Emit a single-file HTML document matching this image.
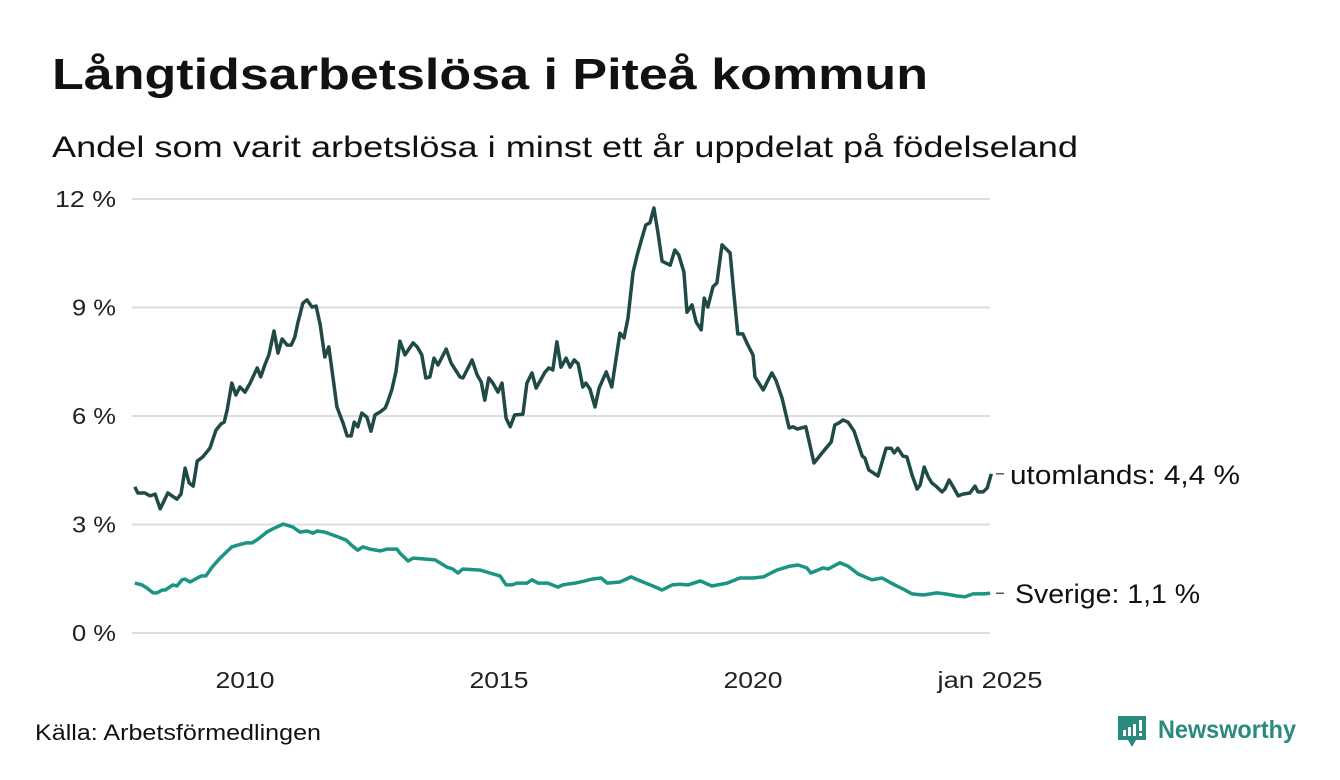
<!DOCTYPE html>
<html><head><meta charset="utf-8"><style>
html,body{margin:0;padding:0;background:#fff;}
svg{display:block;font-family:"Liberation Sans",sans-serif;}
</style></head><body>
<svg id="chart" width="1340" height="780" viewBox="0 0 1340 780" xmlns="http://www.w3.org/2000/svg">
<text x="52" y="89" font-size="44" font-weight="bold" fill="#111" textLength="876" lengthAdjust="spacingAndGlyphs">Långtidsarbetslösa i Piteå kommun</text>
<text x="52" y="157" font-size="30" fill="#111" textLength="1026" lengthAdjust="spacingAndGlyphs">Andel som varit arbetslösa i minst ett år uppdelat på födelseland</text>
<g id="grid"></g>
<g id="yticks"></g>
<g id="xticks"></g>
<g id="series"></g>
<text x="35" y="740" font-size="22" fill="#111" textLength="286" lengthAdjust="spacingAndGlyphs">Källa: Arbetsförmedlingen</text>
<g>
<path d="M1118 716 h28 v24 h-10 l-4 7 l-4 -7 h-10 z" fill="#2a8a7e"/>
<rect x="1123" y="730" width="3" height="6" fill="#fff"/><rect x="1128" y="727" width="3" height="9" fill="#fff"/><rect x="1133" y="724" width="3" height="12" fill="#fff"/><rect x="1139" y="720" width="3" height="11" fill="#fff"/><rect x="1139" y="733" width="3" height="3" fill="#fff"/>
<text x="1158" y="738" font-size="25" font-weight="bold" fill="#2a8a7e" textLength="138" lengthAdjust="spacingAndGlyphs">Newsworthy</text>
</g>
</svg>
<script>
const yTicks = [0, 3, 6, 9, 12];
const yTickLabels = ["0 %", "3 %", "6 %", "9 %", "12 %"];
const xTicks = [2010, 2015, 2020, 2024.67];
const xTickLabels = ["2010", "2015", "2020", "jan 2025"];
const seriesNames = ["utomlands", "Sverige"];
const endLabels = ["utomlands: 4,4 %", "Sverige: 1,1 %"];
const datesUtr = [2007.83,2007.89,2008.03,2008.13,2008.23,2008.33,2008.48,2008.66,2008.74,2008.82,2008.90,2008.98,2009.06,2009.17,2009.31,2009.43,2009.53,2009.59,2009.65,2009.74,2009.82,2009.90,2010.00,2010.10,2010.24,2010.31,2010.39,2010.47,2010.57,2010.65,2010.73,2010.83,2010.91,2010.98,2011.04,2011.14,2011.22,2011.32,2011.40,2011.48,2011.57,2011.65,2011.73,2011.81,2011.93,2012.01,2012.09,2012.15,2012.22,2012.30,2012.40,2012.48,2012.56,2012.66,2012.76,2012.81,2012.89,2012.97,2013.05,2013.15,2013.31,2013.39,2013.48,2013.56,2013.64,2013.72,2013.80,2013.96,2014.06,2014.23,2014.29,2014.47,2014.57,2014.65,2014.72,2014.80,2014.88,2014.98,2015.06,2015.14,2015.22,2015.31,2015.47,2015.55,2015.65,2015.73,2015.91,2015.98,2016.06,2016.14,2016.22,2016.32,2016.40,2016.48,2016.56,2016.65,2016.71,2016.79,2016.89,2016.97,2017.11,2017.22,2017.38,2017.46,2017.54,2017.64,2017.72,2017.82,2017.89,2017.97,2018.05,2018.13,2018.21,2018.37,2018.46,2018.54,2018.64,2018.70,2018.80,2018.88,2018.98,2019.04,2019.11,2019.21,2019.29,2019.39,2019.55,2019.63,2019.70,2019.80,2019.90,2020.00,2020.04,2020.20,2020.37,2020.45,2020.57,2020.71,2020.79,2020.87,2021.04,2021.20,2021.36,2021.54,2021.61,2021.69,2021.77,2021.87,2021.99,2022.15,2022.20,2022.28,2022.46,2022.62,2022.72,2022.78,2022.85,2022.95,2023.03,2023.13,2023.23,2023.29,2023.37,2023.45,2023.52,2023.60,2023.72,2023.78,2023.86,2023.94,2024.04,2024.13,2024.27,2024.37,2024.43,2024.53,2024.61,2024.69];
const valuesUtr = [4.04,3.87,3.87,3.79,3.84,3.43,3.87,3.70,3.84,4.56,4.15,4.06,4.75,4.87,5.11,5.61,5.78,5.83,6.17,6.91,6.58,6.80,6.66,6.91,7.33,7.08,7.41,7.69,8.35,7.74,8.13,7.96,7.96,8.18,8.57,9.12,9.21,9.01,9.04,8.52,7.63,7.91,7.08,6.25,5.81,5.45,5.45,5.83,5.70,6.08,5.97,5.58,6.03,6.11,6.22,6.39,6.72,7.22,8.07,7.69,8.02,7.91,7.69,7.05,7.08,7.60,7.41,7.85,7.46,7.08,7.05,7.55,7.13,6.94,6.44,7.05,6.91,6.66,6.91,5.94,5.70,6.03,6.05,6.91,7.19,6.77,7.22,7.33,7.27,8.05,7.35,7.60,7.35,7.55,7.44,6.80,6.91,6.75,6.25,6.77,7.22,6.80,8.29,8.16,8.71,9.98,10.45,10.95,11.28,11.34,11.75,11.06,10.28,10.17,10.59,10.45,9.98,8.87,9.07,8.60,8.38,9.26,9.01,9.57,9.68,10.73,10.51,9.29,8.27,8.27,7.96,7.69,7.08,6.72,7.19,6.99,6.50,5.67,5.70,5.64,5.70,4.70,4.98,5.28,5.75,5.81,5.89,5.83,5.58,4.89,4.84,4.51,4.34,5.11,5.11,4.98,5.11,4.89,4.87,4.37,3.98,4.09,4.59,4.31,4.15,4.06,3.90,3.98,4.23,4.04,3.79,3.84,3.87,4.06,3.90,3.90,4.01,4.40];
const datesSwe = [2007.83,2007.97,2008.07,2008.19,2008.27,2008.37,2008.43,2008.58,2008.66,2008.76,2008.82,2008.92,2009.06,2009.15,2009.23,2009.35,2009.51,2009.74,2009.86,2010.02,2010.14,2010.26,2010.43,2010.55,2010.75,2010.94,2011.08,2011.22,2011.34,2011.42,2011.57,2011.73,2011.99,2012.11,2012.22,2012.32,2012.46,2012.66,2012.80,2012.99,2013.05,2013.21,2013.31,2013.50,2013.74,2013.98,2014.09,2014.19,2014.29,2014.63,2014.82,2015.02,2015.14,2015.26,2015.35,2015.55,2015.65,2015.77,2015.96,2016.16,2016.26,2016.34,2016.50,2016.69,2016.83,2017.01,2017.13,2017.38,2017.60,2017.78,2018.03,2018.21,2018.41,2018.56,2018.72,2018.96,2019.19,2019.49,2019.74,2020.00,2020.20,2020.47,2020.73,2020.89,2021.06,2021.14,2021.38,2021.48,2021.71,2021.87,2022.07,2022.34,2022.54,2022.76,2022.95,2023.13,2023.35,2023.62,2023.78,2024.04,2024.17,2024.33,2024.53,2024.67];
const valuesSwe = [1.38,1.33,1.24,1.11,1.11,1.19,1.19,1.33,1.30,1.47,1.49,1.41,1.52,1.58,1.58,1.82,2.07,2.38,2.43,2.49,2.49,2.60,2.79,2.88,3.01,2.93,2.79,2.82,2.76,2.82,2.79,2.71,2.57,2.41,2.29,2.38,2.32,2.27,2.32,2.32,2.21,1.99,2.07,2.05,2.02,1.82,1.77,1.66,1.77,1.74,1.66,1.58,1.33,1.33,1.38,1.38,1.47,1.38,1.38,1.27,1.33,1.35,1.38,1.44,1.49,1.52,1.38,1.41,1.55,1.44,1.30,1.19,1.33,1.35,1.33,1.44,1.30,1.38,1.52,1.52,1.55,1.74,1.85,1.88,1.80,1.66,1.80,1.77,1.94,1.85,1.63,1.47,1.52,1.35,1.22,1.08,1.05,1.11,1.08,1.02,1.00,1.08,1.08,1.10];

const NS = "http://www.w3.org/2000/svg";
const X0 = 132, X1 = 990;
const xScale = t => 245 + (t - 2010) * 50.8;
const yScale = v => 633 - v * 36.17;
function mk(tag, attrs, parent, text) {
  const el = document.createElementNS(NS, tag);
  for (const k in attrs) el.setAttribute(k, attrs[k]);
  if (text !== undefined) el.textContent = text;
  parent.appendChild(el);
  return el;
}
const grid = document.getElementById('grid');
const yg = document.getElementById('yticks');
yTicks.forEach((v, i) => {
  const l = mk('line', {x1: X0, x2: X1, y1: yScale(v), y2: yScale(v), stroke: '#dedede', 'stroke-width': 2}, grid);
  
  
  const w = yTickLabels[i].length > 3 ? 61 : 44;
  const t = mk('text', {x: 116 - w, y: yScale(v) + 8, 'font-size': 23, fill: '#222', textLength: w, lengthAdjust: 'spacingAndGlyphs'}, yg, yTickLabels[i]);
  
  
});
const xg = document.getElementById('xticks');
xTicks.forEach((v, i) => {
  const w = xTickLabels[i].length > 4 ? 105 : 59;
  const cx = Math.min(xScale(v), 990);
  const t = mk('text', {x: cx - w / 2, y: 688, 'font-size': 23, fill: '#222', textLength: w, lengthAdjust: 'spacingAndGlyphs'}, xg, xTickLabels[i]);
  
  
});
const sg = document.getElementById('series');
const sets = [[datesUtr, valuesUtr, '#1f4a45', 'line-utomlands'], [datesSwe, valuesSwe, '#1a9484', 'line-sverige']];
sets.forEach((s, i) => {
  const d = s[0].map((t, j) => (j ? 'L' : 'M') + xScale(t).toFixed(1) + ' ' + yScale(s[1][j]).toFixed(1)).join(' ');
  const p = mk('path', {d: d, fill: 'none', stroke: s[2], 'stroke-width': 3.5, 'stroke-linejoin': 'round'}, sg);
  
  
  const lastV = s[1][s[1].length - 1];
  const ly = yScale(lastV);
  const tk = mk('line', {x1: 996, x2: 1004, y1: ly, y2: ly, stroke: '#333', 'stroke-width': 1.2}, sg);
  
  
  const lbl = mk('text', {x: i === 0 ? 1010 : 1015, y: ly + 10, 'font-size': 27, fill: '#111', textLength: i === 0 ? 230 : 185, lengthAdjust: 'spacingAndGlyphs'}, sg, endLabels[i]);
  
  
});
</script>
</body></html>
